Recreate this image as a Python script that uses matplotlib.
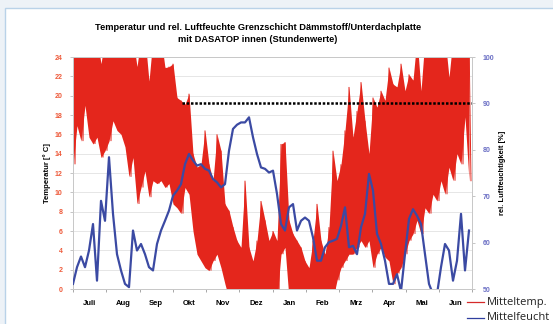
import numpy as np
import matplotlib
matplotlib.use("Agg")
import matplotlib.pyplot as plt
from matplotlib.patches import Rectangle
from matplotlib.lines import Line2D

# ---- data ----
months = ["Juli", "Aug", "Sep", "Okt", "Nov", "Dez", "Jan", "Feb", "Mrz", "Apr", "Mai", "Jun"]
temp_ticks = [0, 2, 4, 6, 8, 10, 12, 14, 16, 18, 20, 22, 24]
hum_ticks = [50, 60, 70, 80, 90, 100]

# temperature: daily highs / lows (values beyond the axis range are clipped)
temp_hi = [26, 26, 26, 26, 26, 26, 26, 23.3, 26, 26,
           26, 26, 26, 26, 26, 26, 23.0, 26, 26, 21.5,
           26, 26, 26, 22.9, 23.0, 23.3, 19.8, 19.5, 19.1, 20.2,
           14.0, 12.6, 12.9, 16.4, 12.9, 11.2, 16.0, 14.3, 8.8, 8.1,
           6.4, 5.0, 4.3, 11.2, 4.3, 2.9, 5.0, 9.1, 7.1, 5.0,
           6.0, 5.0, 15.0, 15.2, 7.1, 5.7, 5.0, 4.3, 2.9, 2.2,
           5.0, 8.8, 5.0, 3.6, 6.4, 14.3, 11.2, 12.9, 16.4, 20.9,
           15.7, 18.4, 21.4, 17.4, 14.0, 19.8, 18.8, 20.5, 19.5, 22.9,
           21.2, 20.9, 23.3, 20.5, 22.2, 21.6, 26, 20.5, 26, 26,
           26, 26, 26, 26, 21.9, 26, 26, 26, 26, 26]
temp_lo = [12.9, 16.9, 15.3, 19.0, 15.7, 15.0, 15.7, 13.6, 14.3, 15.3,
           17.4, 16.4, 16.0, 14.7, 11.6, 13.6, 8.8, 10.5, 12.2, 9.5,
           11.2, 10.9, 11.2, 10.5, 10.9, 8.8, 8.4, 7.8, 10.5, 9.8,
           6.0, 3.6, 2.9, 2.2, 1.9, 2.9, 3.6, 2.2, 0.5, -1,
           -1, -1, -1, -1, -1, -1, -1, -1, -1, -1,
           -1, -1, 3.6, 4.3, -1, -1, -1, -1, -1, -1,
           -1, -1, -1, -1, -1, -1, 0.9, 2.2, 2.9, 3.6,
           3.6, 4.3, 5.0, 4.3, 5.0, 2.2, 3.6, 4.3, 3.3, 2.9,
           0.5, 1.6, 2.2, 3.6, 5.0, 5.7, 7.1, 5.7, 8.4, 7.8,
           9.8, 9.1, 11.2, 9.8, 12.6, 11.2, 14.0, 12.9, 17.8, 11.2]

humidity = [51.1, 54.7, 57.0, 54.7, 58.3, 64.0, 51.8, 69.0, 64.7, 78.4,
            66.2, 57.5, 54.0, 51.1, 50.4, 62.6, 58.3, 59.7, 57.5, 54.7,
            54.0, 59.7, 62.6, 64.7, 66.9, 70.1, 71.2, 72.6, 76.9, 79.1,
            77.7, 76.6, 76.9, 75.9, 75.5, 73.7, 73.0, 71.9, 72.6, 79.8,
            84.5, 85.4, 85.9, 85.9, 87.0, 82.7, 79.1, 76.2, 75.9, 75.1,
            75.5, 70.5, 64.0, 62.6, 67.6, 68.3, 62.6, 64.7, 65.4, 64.7,
            61.1, 56.1, 56.1, 59.0, 60.1, 60.4, 60.8, 63.6, 67.6, 59.0,
            59.3, 57.5, 63.3, 66.2, 74.8, 71.2, 61.9, 59.7, 56.1, 51.1,
            51.1, 53.2, 49.5, 57.5, 65.1, 67.2, 65.8, 64.0, 57.5, 51.1,
            48.9, 48.9, 54.7, 59.7, 58.3, 51.8, 56.1, 66.2, 54.0, 62.6]

threshold_value = 90
threshold_start_day = 100
days_total = 365

# ---- figure ----
W, H = 553, 324
fig = plt.figure(figsize=(W / 100, H / 100), dpi=100)
fig.patch.set_facecolor("#edf2f7")
panel = Rectangle((5 / W, -0.01), 1.0, 1.01 - 8 / H, transform=fig.transFigure,
                  facecolor="white", edgecolor="#b9d2e8", linewidth=1.0, zorder=-10)
fig.patches.append(panel)

left, right, top, bottom = 73, 472, 57, 289
ax = fig.add_axes([left / W, 1 - bottom / H, (right - left) / W, (bottom - top) / H])
ax.set_zorder(1)
ax.set_facecolor("white")
ax2 = ax.twinx()
ax2.set_zorder(2)
ax2.patch.set_visible(False)

step = 4 * days_total / 399.0
n = len(temp_hi)
t_hi = np.arange(n) * step
t_lo = t_hi + step / 2
t_temp = np.column_stack([t_hi, t_lo]).ravel()
temp = np.column_stack([temp_hi, temp_lo]).ravel()
red = "#e4261c"
ax.fill_between(t_hi, temp_lo, temp_hi, color=red, lw=0, zorder=2)
ax.plot(t_temp, temp, color=red, lw=0.7, solid_joinstyle="miter", zorder=2)

t_hum = np.arange(len(humidity)) * step
ax2.plot(t_hum, humidity, color="#3b4aa3", lw=1.6, zorder=3)
ax2.plot([threshold_start_day, days_total], [threshold_value, threshold_value],
         color="black", lw=1.8, linestyle=(0, (1, 0.7)), zorder=4)

ax.set_xlim(0, days_total)
ax.set_ylim(0, 24)
ax2.set_ylim(50, 100)

ax.set_yticks(temp_ticks)
ax.set_yticklabels([str(v) for v in temp_ticks], color="#ee5a3a", fontsize=5.0,
                   fontweight="bold", family="Liberation Sans")
ax2.set_yticks(hum_ticks)
ax2.set_yticklabels([str(v) for v in hum_ticks], color="#6a6ec4", fontsize=5.0,
                    fontweight="bold", family="Liberation Sans")
ax.yaxis.grid(True, color="#e2e2e2", lw=0.6)
ax.set_axisbelow(True)

month_len = days_total / 12.0
ax.set_xticks([month_len * k for k in range(13)])
ax.set_xticklabels([])
ax.set_xticks([month_len * (k + 0.5) for k in range(12)], minor=True)
ax.set_xticklabels(months, minor=True, fontsize=5.5, fontweight="bold",
                   family="Liberation Sans")
ax.tick_params(axis="x", which="minor", length=0, pad=8)
ax.tick_params(axis="x", which="major", length=2.5, color="#999999", width=0.6)
ax.tick_params(axis="y", length=2.5, color="#bbbbbb", width=0.6, pad=5)
ax2.tick_params(axis="y", length=2.5, color="#bbbbbb", width=0.6, pad=5)

for a in (ax, ax2):
    for s in a.spines.values():
        s.set_color("#c8c8c8")
        s.set_linewidth(0.7)

fig.text(47 / W, 1 - 173 / H, "Temperatur [° C]", rotation=90, ha="center", va="center",
         fontsize=5.6, fontweight="bold", family="Liberation Sans")
fig.text(503 / W, 1 - 173 / H, "rel. Luftfeuchtigkeit [%]", rotation=90, ha="center",
         va="center", fontsize=5.4, fontweight="bold", family="Liberation Sans")

fig.text(258 / W, 1 - 27 / H,
         "Temperatur und rel. Luftfeuchte Grenzschicht Dämmstoff/Unterdachplatte",
         ha="center", va="center", fontsize=6.7, fontweight="bold", family="Liberation Sans")
fig.text(258 / W, 1 - 40 / H, "mit DASATOP innen (Stundenwerte)",
         ha="center", va="center", fontsize=6.7, fontweight="bold", family="Liberation Sans")

# legend
for yy, col, lab in [(302, "#d62a2a", "Mitteltemp."), (318, "#2f3f9f", "Mittelfeucht")]:
    fig.lines.append(Line2D([467 / W, 484 / W], [1 - yy / H, 1 - yy / H],
                            transform=fig.transFigure, color=col, lw=0.9, zorder=5))
    fig.text(487 / W, 1 - yy / H, lab, ha="left", va="center", fontsize=8.0,
             family="Open Sans", color="#222222", zorder=5)

fig.savefig("out.png", dpi=100)
